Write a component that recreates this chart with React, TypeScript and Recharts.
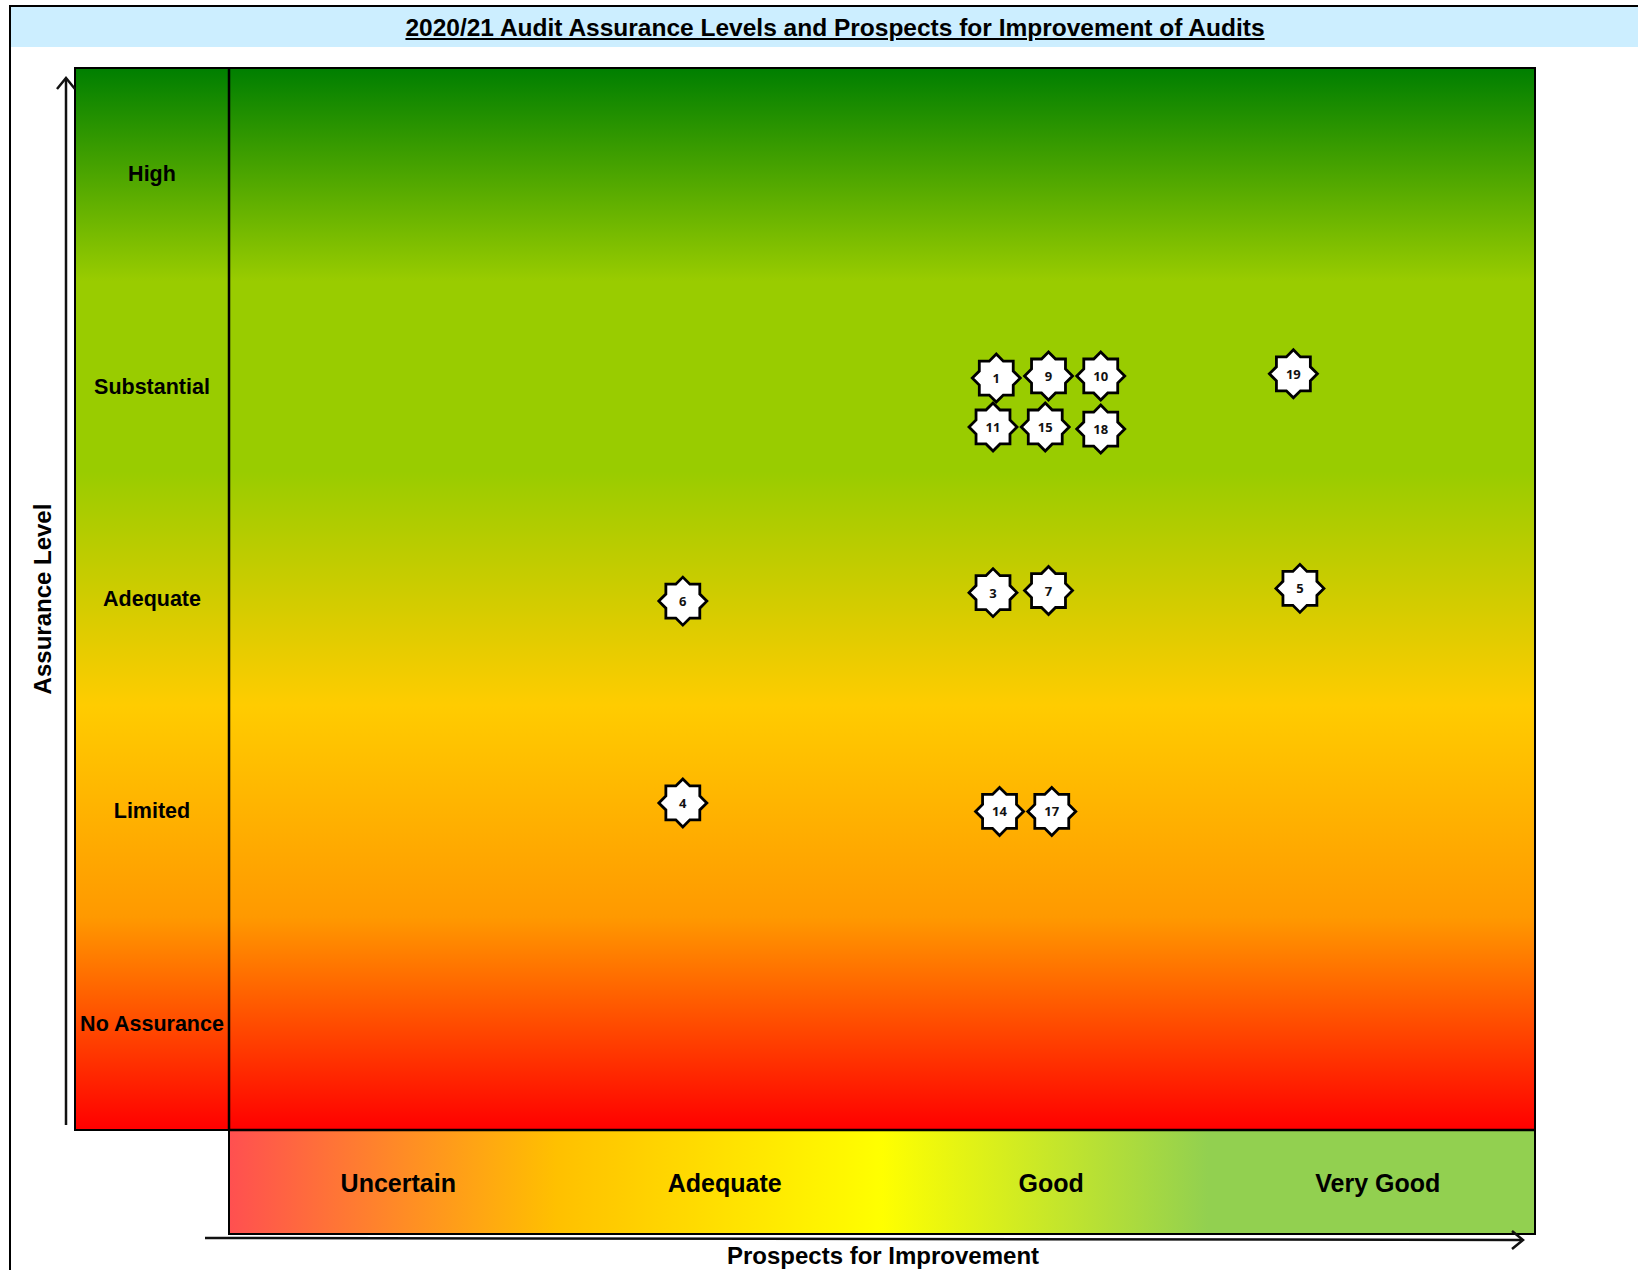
import { ScatterChart, Scatter, XAxis, YAxis } from "recharts";

// Assurance levels, bottom to top, drawn at the middle of each band
const assuranceLevels = ["No Assurance", "Limited", "Adequate", "Substantial", "High"];
const assuranceTicks = [0.5, 1.5, 2.5, 3.5, 4.5];

// Prospects for improvement, left to right
const prospectLevels = ["Uncertain", "Adequate", "Good", "Very Good"];
const prospectTicks = [0.5, 1.5, 2.5, 3.5];

// Audit numbers and where each one sits
const auditIds = [1, 9, 10, 19, 11, 15, 18, 6, 3, 7, 5, 4, 14, 17];
const prospectScores = [2.35, 2.51, 2.67, 3.26, 2.34, 2.5, 2.67, 1.39, 2.34, 2.51, 3.28, 1.39, 2.36, 2.52];
const assuranceScores = [3.54, 3.55, 3.55, 3.56, 3.31, 3.31, 3.3, 2.49, 2.53, 2.54, 2.55, 1.54, 1.5, 1.5];

const audits = auditIds.map((id, i) => ({
  id,
  x: prospectScores[i],
  y: assuranceScores[i],
}));

const FONT = '"Liberation Sans", Arial, sans-serif';

const panelGradient =
  "linear-gradient(to bottom, #007f00 0%, #99cc00 20%, #99cc00 38%, #ffcc00 60%, #ff9900 80%, #ff0000 100%)";
const stripGradient =
  "linear-gradient(to right, #ff5050 0%, #ffc000 25%, #ffff00 50%, #92d050 75%, #92d050 100%)";

function StarMarker(props: any) {
  const { cx, cy, payload } = props;
  if (cx == null || cy == null) return null;
  const outer = 24;
  const inner = outer * 0.765;
  const pts: string[] = [];
  for (let i = 0; i < 16; i++) {
    const r = i % 2 === 0 ? outer : inner;
    const a = (Math.PI / 8) * i - Math.PI / 2;
    pts.push(`${cx + r * Math.cos(a)},${cy + r * Math.sin(a)}`);
  }
  return (
    <g>
      <polygon points={pts.join(" ")} fill="#fff" stroke="#000" strokeWidth={2.8} strokeLinejoin="miter" />
      <text
        x={cx}
        y={cy}
        textAnchor="middle"
        dominantBaseline="central"
        fontSize={13}
        fontWeight="bold"
        fontFamily='"Open Sans", sans-serif'
        fill="#111"
      >
        {payload.id}
      </text>
    </g>
  );
}

const AssuranceTick = (props: any) => {
  const { y, payload } = props;
  return (
    <text x={152} y={y} textAnchor="middle" dominantBaseline="central" fontSize={21.5} fontWeight="bold" fontFamily={FONT} fill="#000">
      {assuranceLevels[Math.floor(payload.value)]}
    </text>
  );
};

const ProspectTick = (props: any) => {
  const { x, payload } = props;
  return (
    <text x={x + 6} y={1183} textAnchor="middle" dominantBaseline="central" fontSize={25} fontWeight="bold" fontFamily={FONT} fill="#000">
      {prospectLevels[Math.floor(payload.value)]}
    </text>
  );
};

export default function App() {
  return (
    <div style={{ position: "absolute", left: 0, top: 0, width: 1638, height: 1270, background: "#fff", fontFamily: FONT, overflow: "hidden" }}>
      {/* outer frame */}
      <div style={{ position: "absolute", left: 9, top: 5, width: 2, height: 1265, background: "#000" }} />
      <div style={{ position: "absolute", left: 9, top: 5, width: 1629, height: 2, background: "#000" }} />
      {/* title band */}
      <div style={{ position: "absolute", left: 11, top: 7, width: 1627, height: 40, background: "#cceeff" }}>
        <span
          style={{
            position: "absolute",
            left: 824,
            top: 0,
            transform: "translateX(-50%)",
            lineHeight: "42px",
            fontSize: 24.5,
            fontWeight: "bold",
            textDecoration: "underline",
            whiteSpace: "nowrap",
            color: "#000",
          }}
        >
          2020/21 Audit Assurance Levels and Prospects for Improvement of Audits
        </span>
      </div>
      {/* assurance panel background */}
      <div
        style={{
          position: "absolute",
          left: 74,
          top: 67,
          width: 1462,
          height: 1064,
          boxSizing: "border-box",
          border: "2.5px solid #000",
          background: panelGradient,
        }}
      />
      {/* prospects strip background */}
      <div
        style={{
          position: "absolute",
          left: 228,
          top: 1129,
          width: 1308,
          height: 106,
          boxSizing: "border-box",
          border: "2.5px solid #000",
          background: stripGradient,
        }}
      />
      <div style={{ position: "absolute", left: 0, top: 0 }}>
        <ScatterChart width={1638} height={1270} margin={{ top: 68, right: 103, bottom: 36, left: 75 }}>
          <XAxis
            type="number"
            dataKey="x"
            domain={[0, 4]}
            ticks={prospectTicks}
            interval={0}
            height={104}
            tickLine={false}
            axisLine={{ stroke: "#000", strokeWidth: 2.5 }}
            tick={<ProspectTick />}
          />
          <YAxis
            type="number"
            dataKey="y"
            domain={[0, 5]}
            ticks={assuranceTicks}
            interval={0}
            width={154}
            tickLine={false}
            axisLine={{ stroke: "#000", strokeWidth: 2.5 }}
            tick={<AssuranceTick />}
          />
          <Scatter data={audits} shape={StarMarker} isAnimationActive={false} />
        </ScatterChart>
      </div>
      {/* axis arrows and titles */}
      <svg width={1638} height={1270} style={{ position: "absolute", left: 0, top: 0, pointerEvents: "none" }}>
        <line x1={66} y1={1125} x2={66} y2={79} stroke="#111" strokeWidth={2.5} />
        <polyline points="57,89 66,78 75,89" fill="none" stroke="#111" strokeWidth={2.5} />
        <line x1={205} y1={1238} x2={1521} y2={1240} stroke="#111" strokeWidth={2.5} />
        <polyline points="1512,1231 1523,1240 1512,1249" fill="none" stroke="#111" strokeWidth={2.5} />
        <text
          x={42}
          y={599}
          transform="rotate(-90 42 599)"
          textAnchor="middle"
          dominantBaseline="central"
          fontSize={24}
          fontWeight="bold"
          fontFamily={FONT}
          fill="#000"
        >
          Assurance Level
        </text>
        <text x={883} y={1255} textAnchor="middle" dominantBaseline="central" fontSize={24} fontWeight="bold" fontFamily={FONT} fill="#000">
          Prospects for Improvement
        </text>
      </svg>
    </div>
  );
}
